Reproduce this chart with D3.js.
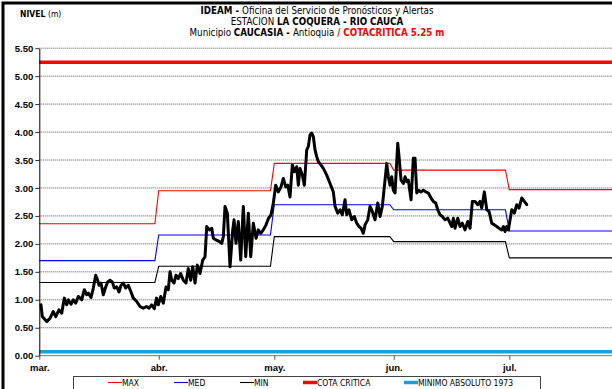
<!DOCTYPE html>
<html>
<head>
<meta charset="utf-8">
<script src="https://cdn.jsdelivr.net/npm/d3@7"></script>
<style>
  html, body { margin: 0; padding: 0; background: #fff; }
  svg { display: block; }
  .narrow { font-family: "Liberation Sans Narrow", "Arial Narrow", "DejaVu Sans Condensed", "Liberation Sans", Arial, sans-serif; }
  .wide { font-family: "Liberation Sans", Arial, sans-serif; }
</style>
</head>
<body>
<svg id="chart" width="612" height="389"></svg>
<script>
// Season: 1 March to 31 July, stage readings at La Coquera (Rio Cauca)
const seasonStart = Date.UTC(2013, 2, 1);
const monthLabels = ["mar.", "abr.", "may.", "jun.", "jul."];

// Monthly historical reference levels (m)
const maxLevel = [2.36, 2.95, 3.44, 3.32, 2.97];
const medLevel = [1.70, 2.16, 2.70, 2.61, 2.23];
const minLevel = [1.31, 1.60, 2.13, 2.04, 1.75];
const cotaCritica = 5.25;
const minimoAbsoluto = 0.07;

const yTicks = [0, 0.5, 1, 1.5, 2, 2.5, 3, 3.5, 4, 4.5, 5, 5.5];

// Observed stage: time in days after 1 March, level in metres
const obsDay = [
  0.44, 0.78, 1.92, 2.78, 3.63, 4.26, 5.11, 5.82, 6.49, 7.11, 7.53, 8.23, 8.83, 9.45,
  10.12, 11.01, 11.68, 12.31, 12.72, 13.42, 14.02, 14.64, 15.16, 15.50, 16.02, 16.61,
  17.24, 17.76, 18.35, 18.95, 19.47, 20.09, 20.69, 21.21, 21.81, 22.43, 23.10, 23.81,
  24.40, 25.29, 26.14, 27.00, 27.88, 28.48, 29.18, 29.85, 30.43, 30.89,
  31.52, 32.19, 32.89, 33.49, 33.93, 34.37, 34.97, 35.49, 36.09, 36.71, 37.38, 38.08,
  38.68, 39.30, 39.82, 40.42, 41.02, 41.72, 42.42, 43.02, 43.46, 44.13, 44.76, 45.17,
  45.87, 46.52, 47.35, 47.77, 48.21, 48.81, 49.51, 50.21, 50.55, 51.06, 51.66, 52.28,
  52.96, 53.58, 54.26, 54.88, 55.56, 56.26, 56.85, 57.48, 58.15, 58.85, 59.45, 60.15,
  60.75, 61.37, 62.05, 62.75, 63.34, 63.97, 64.49, 65.08, 65.68, 66.20, 66.82, 67.24,
  67.68, 68.28, 68.80, 69.42, 69.83, 70.28, 70.72, 71.13, 71.57, 72.01, 72.43, 73.13,
  73.73, 74.61, 75.47, 76.32, 76.77, 77.47, 78.06, 78.66, 79.36, 79.80, 80.40, 81.10,
  81.78, 82.40, 83.00, 83.52, 84.11, 84.55, 85.25, 85.85, 86.45, 87.15, 87.85, 88.45,
  89.04, 89.74, 90.19, 90.60, 91.04, 91.48, 91.90, 92.34, 93.04, 93.38, 93.90, 94.50,
  94.94, 95.38, 95.79, 96.50, 97.09, 97.53, 97.98, 98.39, 99.09, 99.69, 100.31, 100.99,
  101.69, 102.28, 102.91, 103.43, 104.02, 104.62, 105.32, 106.02, 106.62, 107.06, 107.48,
  107.92, 108.62, 109.22, 109.81, 110.52, 111.21, 111.81, 112.41, 113.11, 113.81, 114.41,
  114.85, 115.52, 116.15, 116.74, 117.45, 118.12, 118.74, 119.34, 120.04, 120.46, 120.90,
  121.34, 121.76, 122.20, 122.64, 123.31, 123.94, 124.53, 125.23, 125.91, 126.53
];
const obsLevel = [
  0.91, 0.70, 0.61, 0.67, 0.79, 0.70, 0.82, 0.76, 1.03, 0.91, 1.00, 0.92, 1.00, 0.94,
  1.06, 1.00, 1.18, 1.09, 1.12, 1.04, 1.21, 1.44, 1.35, 1.26, 1.30, 1.09,
  1.23, 1.32, 1.35, 1.32, 1.21, 1.23, 1.14, 1.26, 1.30, 1.21, 1.26, 1.14,
  1.03, 0.97, 0.88, 0.85, 0.88, 0.85, 0.91, 0.84, 1.03, 0.91,
  1.06, 0.94, 1.23, 1.18, 1.50, 1.35, 1.30, 1.44, 1.38, 1.47, 1.35, 1.30,
  1.56, 1.35, 1.59, 1.30, 1.62, 1.47, 1.71, 1.77, 2.31, 2.25, 2.28, 2.10,
  2.07, 2.05, 2.01, 2.13, 2.67, 2.55, 1.59, 2.25, 2.43, 2.01, 2.40, 1.71,
  2.67, 1.77, 2.55, 1.77, 2.37, 2.10, 2.25, 2.19, 2.25, 2.34, 2.45, 2.52,
  2.73, 3.05, 2.93, 3.02, 3.17, 3.02, 3.05, 2.84, 3.41, 3.29, 3.38, 3.05,
  3.35, 3.23, 3.05, 3.68, 3.74, 3.95, 3.98, 3.92, 3.68, 3.56, 3.47, 3.41,
  3.35, 3.23, 3.08, 2.93, 2.67, 2.55, 2.61, 2.52, 2.79, 2.52, 2.61, 2.43,
  2.49, 2.37, 2.31, 2.28, 2.19, 2.34, 2.43, 2.67, 2.58, 2.43, 2.73, 2.49,
  2.67, 3.14, 3.44, 3.20, 3.05, 3.20, 2.96, 2.91, 3.80, 3.56, 3.14, 3.08,
  3.20, 3.11, 3.14, 2.79, 3.53, 3.53, 2.91, 2.96, 2.93, 2.96, 2.93, 2.91,
  2.82, 2.76, 2.73, 2.61, 2.52, 2.49, 2.43, 2.46, 2.37, 2.31, 2.46,
  2.28, 2.46, 2.31, 2.37, 2.25, 2.40, 2.28, 2.76, 2.76, 2.70, 2.76,
  2.64, 2.93, 2.61, 2.58, 2.37, 2.34, 2.31, 2.28, 2.25, 2.31, 2.22,
  2.31, 2.25, 2.43, 2.61, 2.55, 2.70, 2.64, 2.82, 2.76, 2.70
];

const svg = d3.select("#chart");
const W = 612;

const dayMs = 864e5;
const toDate = d => new Date(seasonStart + d * dayMs);

const x = d3.scaleUtc()
  .domain([new Date(Date.UTC(2013, 2, 1)), new Date(Date.UTC(2013, 6, 1))])
  .range([39.3, 509.3]);
const y = d3.scaleLinear().domain([0, 5.5]).range([355.7, 48.2]);

const monthStarts = d3.utcMonth.range(new Date(Date.UTC(2013, 2, 1)), new Date(Date.UTC(2013, 7, 1)));
const plotEnd = x(new Date(Date.UTC(2013, 7, 1)));

// Outer frame
svg.append("rect")
  .attr("x", 3).attr("y", 3).attr("width", W + 20).attr("height", 400)
  .attr("fill", "#fff").attr("stroke", "#000").attr("stroke-width", 3);

// Horizontal dotted grid
svg.append("g").selectAll("line").data(yTicks.filter(v => v > 0)).join("line")
  .attr("x1", x.range()[0]).attr("x2", plotEnd)
  .attr("y1", d => y(d)).attr("y2", d => y(d))
  .attr("stroke", "#555").attr("stroke-width", 1).attr("stroke-dasharray", "1,1");

// Monthly reference step lines
function stepPoints(levels) {
  const pts = [];
  levels.forEach((v, i) => {
    const start = monthStarts[i];
    const end = d3.utcDay.offset(d3.utcMonth.offset(start, 1), -1);
    pts.push([start, v], [end, v]);
  });
  return pts;
}
const stepLine = d3.line().x(d => x(d[0])).y(d => y(d[1]));
const refSeries = [
  { name: "MAX", levels: maxLevel, color: "#ff0000" },
  { name: "MED", levels: medLevel, color: "#0000ff" },
  { name: "MIN", levels: minLevel, color: "#000000" }
];
svg.append("g").selectAll("path").data(refSeries).join("path")
  .attr("d", d => stepLine(stepPoints(d.levels)))
  .attr("fill", "none").attr("stroke", d => d.color).attr("stroke-width", 1.1);

// Critical level and absolute minimum
svg.append("line")
  .attr("x1", x.range()[0]).attr("x2", plotEnd)
  .attr("y1", y(cotaCritica)).attr("y2", y(cotaCritica))
  .attr("stroke", "#ff0000").attr("stroke-width", 3.5);
svg.append("line")
  .attr("x1", x.range()[0]).attr("x2", plotEnd)
  .attr("y1", y(minimoAbsoluto)).attr("y2", y(minimoAbsoluto))
  .attr("stroke", "#1aa0d2").attr("stroke-width", 3.5);

// X axis
const xAxis = svg.append("g").attr("transform", `translate(0,${y(0)})`)
  .call(d3.axisBottom(x).tickValues(monthStarts.slice(0, 5)).tickSize(4).tickSizeOuter(0)
    .tickFormat((d, i) => monthLabels[i]));
xAxis.select(".domain").attr("stroke", "#777").attr("d", `M${x.range()[0]},0H${plotEnd}`);
xAxis.selectAll(".tick line").attr("stroke", "#555");
xAxis.selectAll(".tick text")
  .attr("class", "wide").attr("font-size", 9.5).attr("font-weight", "bold")
  .attr("fill", "#000").attr("dy", "0.9em");

// Y axis
const yAxis = svg.append("g").attr("transform", `translate(${x.range()[0]},0)`)
  .call(d3.axisLeft(y).tickValues(yTicks).tickFormat(d3.format(".2f")).tickSize(4).tickSizeOuter(0));
yAxis.select(".domain").attr("stroke", "#000");
yAxis.selectAll(".tick line").attr("stroke", "#333");
yAxis.selectAll(".tick text")
  .attr("class", "wide").attr("font-size", 9.5).attr("font-weight", "bold")
  .attr("fill", "#000").attr("x", -6);

// Observed stage
const obs = obsDay.map((d, i) => [toDate(d), obsLevel[i]]);
svg.append("path")
  .attr("d", d3.line().x(d => x(d[0])).y(d => y(d[1]))(obs))
  .attr("fill", "none").attr("stroke", "#000").attr("stroke-width", 3)
  .attr("stroke-linejoin", "round").attr("stroke-linecap", "round");

// Titles
const title = svg.append("g").attr("class", "narrow").attr("text-anchor", "middle").attr("font-size", 9.7);
const t1 = title.append("text").attr("x", 317).attr("y", 14);
t1.append("tspan").attr("font-weight", "bold").text("IDEAM - ");
t1.append("tspan").text("Oficina del Servicio de Pronósticos y Alertas");
const t2 = title.append("text").attr("x", 317).attr("y", 25);
t2.append("tspan").text("ESTACION ");
t2.append("tspan").attr("font-weight", "bold").text("LA COQUERA - RIO CAUCA");
const t3 = title.append("text").attr("x", 317).attr("y", 36);
t3.append("tspan").text("Municipio ");
t3.append("tspan").attr("font-weight", "bold").text("CAUCASIA - ");
t3.append("tspan").text(" Antioquia  ");
t3.append("tspan").attr("font-weight", "bold").attr("fill", "#ff0000").text("/ COTACRITICA 5.25 m");

const yl = svg.append("text").attr("class", "narrow").attr("x", 20).attr("y", 17).attr("font-size", 8.5);
yl.append("tspan").attr("font-weight", "bold").text("NIVEL ");
yl.append("tspan").text("(m)");

// Legend
const legend = svg.append("g").attr("class", "narrow");
legend.append("rect").attr("x", 73.5).attr("y", 376.5).attr("width", 467).attr("height", 20)
  .attr("fill", "#fff").attr("stroke", "#444").attr("stroke-width", 1);
const legendItems = [
  { label: "MAX", color: "#ff0000", w: 1.1, x0: 108 },
  { label: "MED", color: "#0000ff", w: 1.1, x0: 174 },
  { label: "MIN", color: "#000000", w: 1.1, x0: 240 },
  { label: "COTA CRITICA", color: "#ff0000", w: 3.5, x0: 303 },
  { label: "MINIMO ABSOLUTO 1973", color: "#1aa0d2", w: 3.5, x0: 404 }
];
const li = legend.selectAll("g").data(legendItems).join("g");
li.append("line").attr("x1", d => d.x0).attr("x2", d => d.x0 + 14)
  .attr("y1", 382.5).attr("y2", 382.5)
  .attr("stroke", d => d.color).attr("stroke-width", d => d.w);
li.append("text").attr("x", d => d.x0 + 14).attr("y", 385.5)
  .attr("font-size", 8.5).attr("fill", "#000").text(d => d.label);
</script>
</body>
</html>
